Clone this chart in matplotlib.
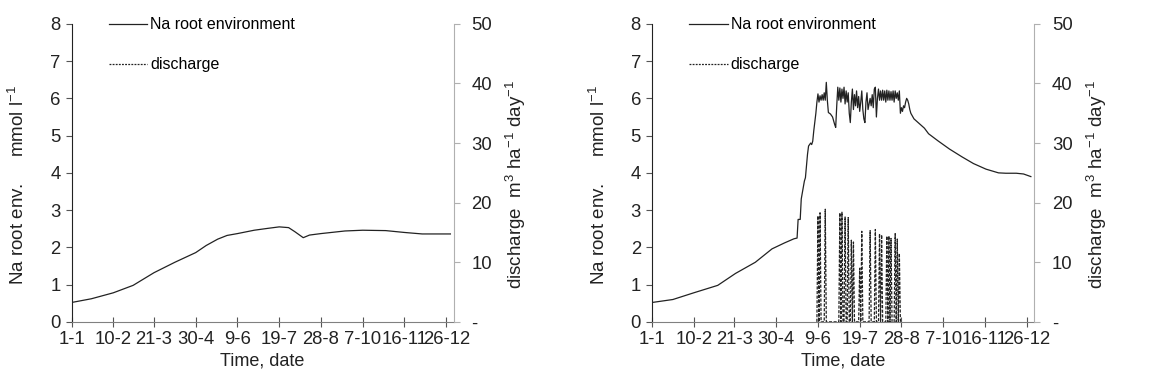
import numpy as np
import matplotlib as mpl
mpl.use('Agg')
from matplotlib import pyplot as plt
from matplotlib.lines import Line2D

plt.rcParams['font.family'] = ['Liberation Sans', 'DejaVu Sans']
plt.rcParams['mathtext.default'] = 'regular'

# x ticks: day of year and their labels
tick_days = [1, 41, 80, 120, 160, 200, 240, 280, 320, 360]
tick_labels = ['1-1', '10-2', '21-3', '30-4', '9-6', '19-7', '28-8', '7-10', '16-11', '26-12']

# left panel: Na root environment (mmol/l)
na1_day = [1, 20, 41, 60, 80, 100, 120, 130, 141, 150, 160, 176, 189, 200, 209,
           215, 223, 229, 240, 263, 280, 302, 320, 337, 364]
na1_val = [0.52, 0.62, 0.78, 0.98, 1.32, 1.60, 1.86, 2.05, 2.22, 2.32, 2.37, 2.46,
           2.51, 2.55, 2.53, 2.42, 2.26, 2.33, 2.37, 2.44, 2.46, 2.45, 2.40, 2.36, 2.36]

# right panel: Na root environment (mmol/l)
na2_day = [1, 21, 41, 64, 81, 100, 116, 128, 137, 140, 141, 143, 144, 147, 148,
           150, 151, 153, 154, 155, 156, 158, 159,
           160, 161, 162, 163, 164, 165, 166, 167, 168, 169, 170, 172, 174, 176, 177, 178,
           179, 180, 181, 182, 183, 184, 185, 186, 187, 188,
           189, 190, 191, 192, 193, 194, 195, 196, 197, 198, 199, 200,
           201, 202, 203, 204, 205, 206, 207, 208, 209, 210, 211, 212,
           213, 214, 215, 216, 217, 218,
           219, 220, 221, 222, 223, 224, 225, 226, 227, 228, 229, 230, 231, 232,
           233, 234, 235, 236, 237, 238, 239, 240,
           241, 242, 243, 244, 245, 246, 247, 248, 249,
           252, 256, 262, 266, 275, 286, 298, 309, 321, 333, 340, 350, 357, 364]
na2_val = [0.52, 0.60, 0.78, 0.98, 1.30, 1.60, 1.96, 2.12, 2.23, 2.25, 2.75, 2.75, 3.30, 3.78, 3.87,
           4.50, 4.72, 4.80, 4.76, 4.85, 5.13, 5.60, 5.90,
           6.12, 5.90, 6.07, 5.95, 6.10, 5.95, 6.15, 5.95, 6.43, 5.95, 5.62, 5.58, 5.50, 5.30, 5.22, 5.80,
           6.30, 5.95, 6.28, 5.90, 6.25, 6.00, 6.30, 5.85, 6.20, 5.90,
           6.15, 5.60, 5.35, 5.90, 6.25, 5.70, 6.10, 5.80, 6.20, 5.75, 6.05, 5.65,
           5.90, 6.20, 5.70, 5.45, 5.35, 5.90, 6.15, 5.70, 5.85, 6.00, 5.80, 6.10,
           5.75, 6.25, 6.30, 5.50, 6.00, 6.25,
           5.95, 6.20, 5.95, 6.22, 5.95, 6.20, 5.90, 6.22, 5.95, 6.20, 5.95, 6.18, 5.95, 6.20,
           5.90, 6.20, 6.00, 6.15, 5.95, 6.20, 5.60, 5.75,
           5.65, 5.80, 5.75, 5.90, 6.00, 5.95, 5.85, 5.70, 5.60,
           5.45, 5.35, 5.20, 5.05, 4.86, 4.64, 4.43, 4.25, 4.10, 4.00, 3.99, 3.99, 3.97, 3.90]

# right panel: discharge (m3/ha/day)
dis_day = [159, 160, 161, 162, 163, 166, 167, 168,
           180, 181, 182, 183, 184, 185, 186, 187, 188, 189, 190,
           191, 192, 193, 194, 195,
           199, 200, 201, 202, 203, 209, 210, 211, 214, 215, 216,
           218, 219, 220, 221, 222, 225, 226, 227, 228, 229, 230, 231,
           233, 234, 235, 236, 237, 238, 239]
dis_val = [0, 17.8, 0, 18.3, 0, 0, 18.9, 0,
           0, 18.3, 0, 18.4, 0, 0, 17.6, 0, 0, 17.5, 0,
           0, 13.7, 0, 13.4, 0,
           0, 9.0, 0, 15.2, 0, 0, 15.3, 0, 0, 15.5, 0,
           0, 14.8, 0, 14.6, 0, 0, 14.4, 0, 14.4, 0, 14.0, 0,
           0, 14.8, 0, 13.9, 0, 11.5, 0]

fig = plt.figure(figsize=(11.54, 3.85), dpi=100)
panels = [(0.062, na1_day, na1_val, None, None),
          (0.565, na2_day, na2_val, dis_day, dis_val)]

for left, nd, nv, dd, dv in panels:
  ax = fig.add_axes([left, 0.164, 0.331, 0.774])
  ax2 = ax.twinx()
  ax.plot(nd, nv, color='#222222', lw=0.9)
  if dd is not None:
    ax2.plot(dd, dv, color='#222222', lw=0.9, linestyle=(0, (2.5, 1.2)))
  ax.set_xlim(1, 367)
  ax.set_ylim(0, 8)
  ax2.set_ylim(0, 50)
  ax.set_xticks(tick_days)
  ax.set_xticklabels(tick_labels)
  ax.set_yticks(range(9))
  ax2.set_yticks([0, 10, 20, 30, 40, 50])
  ax2.set_yticklabels(['-', '10', '20', '30', '40', '50'])
  for a in (ax, ax2):
    a.spines['top'].set_visible(False)
  ax.spines['right'].set_visible(False)
  ax2.spines['left'].set_visible(False)
  ax2.spines['bottom'].set_visible(False)
  ax2.spines['right'].set_color('#b0b0b0')
  ax.spines['bottom'].set_color('#808080')
  ax.spines['left'].set_color('#222222')
  ax.tick_params(axis='x', direction='inout', length=7, width=0.8, colors='#555555',
                 labelcolor='#222222', labelsize=13.3, pad=3)
  ax.tick_params(axis='y', direction='out', length=4, width=0.8, colors='#555555',
                 labelcolor='#222222', labelsize=13.3, pad=4)
  ax2.tick_params(axis='y', direction='out', length=4, width=0.8, colors='#b0b0b0',
                  labelcolor='#222222', labelsize=13.3, pad=9)
  ax.set_xlabel('Time, date', fontsize=13, color='#222222', labelpad=3)
  ax.set_ylabel('Na root env.     mmol l$^{-1}$', fontsize=13.5, color='#222222')
  ax.yaxis.set_label_coords(-0.113, 0.46)
  ax2.set_ylabel('discharge  m$^3$ ha$^{-1}$ day$^{-1}$', fontsize=13.5, color='#222222')
  ax2.yaxis.set_label_coords(1.133, 0.46)
  handles = [Line2D([], [], color='#222222', lw=0.9),
             Line2D([], [], color='#222222', lw=0.9, linestyle=(0, (1.5, 1)))]
  ax.legend(handles, ['Na root environment', 'discharge'], loc='upper left',
            bbox_to_anchor=(0.06, 1.07), frameon=False, fontsize=11.5,
            handlelength=2.4, handletextpad=0.2, labelspacing=1.55)

fig.savefig('out.png', dpi=100)
